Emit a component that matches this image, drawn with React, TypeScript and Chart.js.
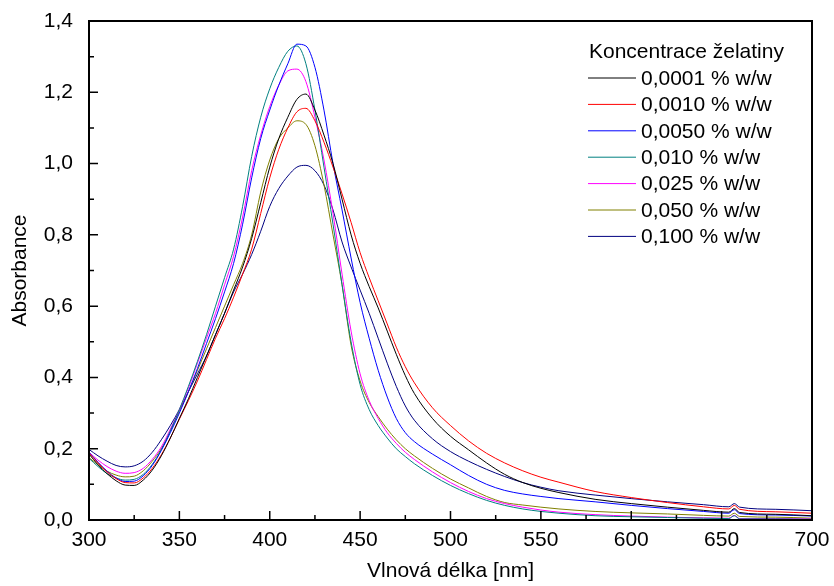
import React, { useEffect, useRef } from 'react';
import { Chart, registerables } from 'chart.js';

Chart.register(...registerables);

// ---- data ----
const wavelengths = [300,305,310,315,320,325,330,335,340,345,350,355,360,365,370,375,380,385,390,395,400,405,410,415,420,425,430,435,440,445,450,455,460,465,470,475,480,490,500,510,520,530,540,550,560,580,600,620,640,654,657,660,680,700];

const xTicks = [300, 350, 400, 450, 500, 550, 600, 650, 700];
const yTicks = [0, 0.2, 0.4, 0.6, 0.8, 1.0, 1.2, 1.4];

const legendTitle = 'Koncentrace želatiny';
const seriesLabels = ['0,0001 % w/w', '0,0010 % w/w', '0,0050 % w/w', '0,010 % w/w', '0,025 % w/w', '0,050 % w/w', '0,100 % w/w'];
const seriesColors = ['#000000', '#ff0000', '#0000ff', '#008080', '#ff00ff', '#808000', '#000080'];

const c0001 = [0.185,0.155,0.13,0.11,0.098,0.097,0.112,0.14,0.18,0.23,0.285,0.34,0.40,0.46,0.52,0.58,0.645,0.71,0.79,0.89,0.99,1.07,1.13,1.18,1.195,1.15,1.08,1.0,0.9,0.8,0.72,0.655,0.595,0.53,0.465,0.405,0.355,
  0.285,0.235,0.197,0.16,0.128,0.105,0.089,0.077,
  0.058,0.046,0.036,0.027,
  0.022,0.032,0.021,
  0.016,0.012];
const c0010 = [0.188,0.16,0.135,0.116,0.105,0.104,0.118,0.145,0.183,0.23,0.283,0.335,0.39,0.45,0.51,0.565,0.625,0.69,0.76,0.86,0.96,1.04,1.10,1.145,1.155,1.12,1.06,0.99,0.915,0.835,0.75,0.68,0.615,0.55,0.485,0.43,0.385,
  0.315,0.265,0.222,0.187,0.16,0.138,0.12,0.106,
  0.08,0.063,0.049,0.037,
  0.031,0.041,0.03,
  0.023,0.019];
const c0050 = [0.19,0.162,0.137,0.118,0.108,0.109,0.124,0.153,0.195,0.245,0.3,0.36,0.425,0.495,0.565,0.64,0.72,0.83,0.96,1.07,1.15,1.22,1.28,1.335,1.33,1.27,1.15,1.0,0.87,0.735,0.61,0.51,0.42,0.345,0.285,0.245,0.22,
  0.185,0.155,0.125,0.1,0.083,0.073,0.066,0.06,
  0.051,0.041,0.032,0.024,
  0.019,0.029,0.018,
  0.014,0.011];
const c010 = [0.173,0.15,0.13,0.118,0.112,0.114,0.128,0.156,0.197,0.25,0.31,0.375,0.445,0.52,0.6,0.68,0.76,0.88,1.02,1.13,1.21,1.27,1.315,1.33,1.28,1.15,0.99,0.83,0.66,0.5,0.38,0.31,0.265,0.23,0.2,0.178,0.158,
  0.125,0.097,0.074,0.055,0.041,0.031,0.024,0.019,
  0.012,0.009,0.007,0.005,
  0.004,0.012,0.003,
  0.003,0.002];
const c025 = [0.19,0.168,0.15,0.137,0.131,0.133,0.145,0.17,0.205,0.255,0.31,0.37,0.44,0.51,0.58,0.66,0.74,0.85,0.98,1.08,1.16,1.22,1.26,1.265,1.23,1.13,1.01,0.86,0.69,0.53,0.41,0.335,0.285,0.245,0.215,0.19,0.17,
  0.135,0.105,0.08,0.06,0.046,0.036,0.028,0.022,
  0.015,0.011,0.008,0.006,
  0.005,0.013,0.004,
  0.004,0.003];
const c050 = [0.175,0.155,0.137,0.126,0.121,0.123,0.138,0.165,0.2,0.25,0.305,0.36,0.42,0.48,0.54,0.6,0.66,0.72,0.8,0.92,1.01,1.07,1.1,1.12,1.11,1.05,0.94,0.8,0.66,0.49,0.39,0.33,0.29,0.255,0.225,0.2,0.18,
  0.145,0.115,0.09,0.066,0.049,0.042,0.036,0.031,
  0.024,0.02,0.017,0.013,
  0.011,0.019,0.01,
  0.008,0.005];
const c100 = [0.198,0.18,0.165,0.153,0.149,0.152,0.165,0.19,0.225,0.265,0.31,0.36,0.41,0.46,0.52,0.58,0.64,0.69,0.745,0.81,0.88,0.93,0.965,0.99,0.995,0.98,0.94,0.87,0.78,0.71,0.645,0.58,0.51,0.44,0.375,0.32,0.28,
  0.228,0.192,0.165,0.142,0.122,0.105,0.092,0.082,
  0.07,0.06,0.051,0.043,
  0.037,0.046,0.036,
  0.03,0.026];

const seriesValues = [c0001, c0010, c0050, c010, c025, c050, c100];

const FONT = '"Liberation Sans", Arial, sans-serif';
const FS = 21;

export default function App() {
  const ref = useRef<HTMLCanvasElement>(null);

  useEffect(() => {
    document.body.style.margin = '0';
    const canvas = ref.current;
    if (!canvas) return;

    const datasets = seriesValues.map((vals, i) => ({
      label: seriesLabels[i],
      data: wavelengths.map((w, j) => ({ x: w, y: vals[j] })),
      borderColor: seriesColors[i],
      backgroundColor: seriesColors[i],
      borderWidth: 1,
      pointRadius: 0,
      fill: false,
      cubicInterpolationMode: 'monotone' as const,
    }));

    const framePlugin = {
      id: 'frameTicksLegend',
      afterDraw(chart: any) {
        const { ctx, chartArea: a, scales } = chart;
        const xs = scales.x;
        const ys = scales.y;
        ctx.save();
        ctx.strokeStyle = '#000';
        // ticks (inward)
        ctx.lineWidth = 1.5;
        ctx.beginPath();
        for (let v = 300; v <= 700; v += 25) {
          const px = xs.getPixelForValue(v);
          const len = v % 50 === 0 ? 9 : 5;
          ctx.moveTo(px, a.bottom);
          ctx.lineTo(px, a.bottom - len);
        }
        for (let k = 0; k <= 14; k++) {
          const v = k / 10;
          const py = ys.getPixelForValue(v);
          const len = k % 2 === 0 ? 9 : 5;
          ctx.moveTo(a.left, py);
          ctx.lineTo(a.left + len, py);
        }
        ctx.stroke();
        // frame
        ctx.lineWidth = 2;
        ctx.strokeRect(a.left, a.top, a.right - a.left, a.bottom - a.top);

        // legend
        ctx.font = `${FS}px ${FONT}`;
        ctx.fillStyle = '#000';
        ctx.textAlign = 'left';
        ctx.textBaseline = 'middle';
        ctx.fillText(legendTitle, 589, 52);
        chart.data.datasets.forEach((ds: any, i: number) => {
          const y = 78 + i * 26.4;
          ctx.strokeStyle = ds.borderColor;
          ctx.lineWidth = 1;
          ctx.beginPath();
          ctx.moveTo(588, y);
          ctx.lineTo(636, y);
          ctx.stroke();
          ctx.fillStyle = '#000';
          ctx.fillText(ds.label, 641, y + 1);
        });
        ctx.restore();
      },
    };

    const chart = new Chart(canvas, {
      type: 'line',
      data: { datasets },
      options: {
        animation: false,
        responsive: false,
        devicePixelRatio: 1,
        layout: { padding: { top: 21, right: 22, left: 0, bottom: 0 } },
        plugins: {
          legend: { display: false },
          tooltip: { enabled: false },
        },
        elements: { line: { tension: 0 } },
        scales: {
          x: {
            type: 'linear',
            min: 300,
            max: 700,
            afterFit: (s: any) => { s.height = 66; s.paddingLeft = 0; s.paddingRight = 0; },
            afterBuildTicks: (s: any) => { s.ticks = xTicks.map((v) => ({ value: v })); },
            grid: { display: false, drawTicks: false },
            border: { display: false },
            ticks: {
              autoSkip: false,
              maxRotation: 0,
              padding: 8,
              color: '#000',
              font: { family: FONT, size: FS },
              callback: (v: any) => String(v),
            },
            title: {
              display: true,
              text: 'Vlnová délka [nm]',
              color: '#000',
              font: { family: FONT, size: FS },
              padding: { top: 0, bottom: 2 },
            },
          },
          y: {
            type: 'linear',
            min: 0,
            max: 1.4,
            afterFit: (s: any) => { s.width = 89; s.paddingTop = 0; s.paddingBottom = 0; },
            afterBuildTicks: (s: any) => { s.ticks = yTicks.map((v) => ({ value: v })); },
            grid: { display: false, drawTicks: false },
            border: { display: false },
            ticks: {
              autoSkip: false,
              padding: 16,
              color: '#000',
              font: { family: FONT, size: FS },
              callback: (v: any) => Number(v).toFixed(1).replace('.', ','),
            },
            title: {
              display: true,
              text: 'Absorbance',
              color: '#000',
              font: { family: FONT, size: FS },
              padding: { top: 8, bottom: 0 },
            },
          },
        },
      },
      plugins: [framePlugin],
    });

    return () => chart.destroy();
  }, []);

  return (
    <div style={{ width: 834, height: 586 }}>
      <canvas ref={ref} width={834} height={586} style={{ display: 'block' }} />
    </div>
  );
}
